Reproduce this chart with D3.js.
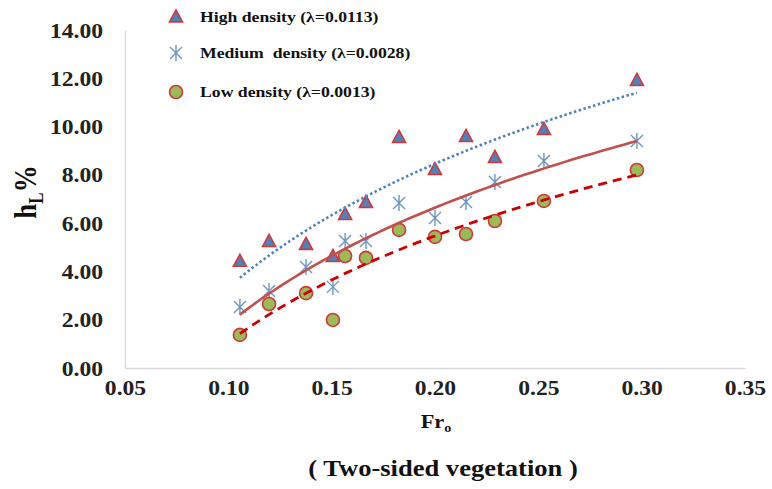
<!DOCTYPE html>
<html>
<head>
<meta charset="utf-8">
<script src="https://cdn.jsdelivr.net/npm/d3@7"></script>
<style>
  body { margin: 0; background: #fff; }
  svg text { font-family: "Liberation Serif", "Times New Roman", serif; font-weight: bold; }
</style>
</head>
<body>
<div id="chart"></div>
<script>
// Froude number values shared by all three series
const froude = [0.1056, 0.1197, 0.1376, 0.1506, 0.1565, 0.1666, 0.1826, 0.2000, 0.2150, 0.2290, 0.2527, 0.2977];

// h_L % for each vegetation density
const highDensity   = [4.42, 5.24, 5.12, 4.62, 6.36, 6.86, 9.55, 8.22, 9.59, 8.72, 9.88, 11.91];
const mediumDensity = [2.53, 3.19, 4.18, 3.36, 5.26, 5.26, 6.83, 6.21, 6.88, 7.70, 8.57, 9.40];
const lowDensity    = [1.37, 2.65, 3.10, 1.99, 4.64, 4.56, 5.72, 5.43, 5.55, 6.09, 6.92, 8.20];

const xTicks = [0.05, 0.10, 0.15, 0.20, 0.25, 0.30, 0.35];
const yTicks = [0, 2, 4, 6, 8, 10, 12, 14];

const width = 772, height = 489;
const margin = { left: 125, right: 27, top: 30, bottom: 121 };
// the original picture is a bit stretched sideways, so text is widened too
const stretch = 1.18;

const svg = d3.select('#chart').append('svg')
    .attr('width', width)
    .attr('height', height);

const x = d3.scaleLinear().domain([0.05, 0.35]).range([margin.left, width - margin.right]);
const y = d3.scaleLinear().domain([0, 14]).range([height - margin.bottom, margin.top]);

// axes - light grey lines, no tick marks
const xAxis = svg.append('g')
    .attr('transform', `translate(0,${y(0)})`)
    .call(d3.axisBottom(x).tickValues(xTicks).tickSize(0).tickPadding(10).tickFormat(d3.format('.2f')));
const yAxis = svg.append('g')
    .attr('transform', `translate(${x(0.05)},0)`)
    .call(d3.axisLeft(y).tickValues(yTicks).tickSize(0).tickFormat(d3.format('.2f')));

[xAxis, yAxis].forEach(ax => {
    ax.attr('font-family', null);
    ax.select('.domain').attr('stroke', '#d9d9d9').attr('stroke-width', 1.3);
    ax.selectAll('text')
        .style('font-size', '20px')
        .style('fill', '#222')
        .attr('transform', `scale(${stretch},1)`);
});
xAxis.selectAll('text').attr('dy', '0.85em');
yAxis.selectAll('text').attr('x', -22 / stretch).attr('dy', '0.35em');

// logarithmic trend line, y = a ln(x) + b, least squares fit
function logFit(xs, ys) {
    const lx = xs.map(Math.log);
    const mx = d3.mean(lx), my = d3.mean(ys);
    let sxy = 0, sxx = 0;
    lx.forEach((v, i) => { sxy += (v - mx) * (ys[i] - my); sxx += (v - mx) * (v - mx); });
    const a = sxy / sxx;
    const b = my - a * mx;
    return v => a * Math.log(v) + b;
}

const series = [
    { name: 'High density', lambda: '0.0113', values: highDensity, marker: 'triangle',
      lineColor: '#4f81bd', dash: '2.5,2.5', lineWidth: 2.6 },
    { name: 'Medium  density', lambda: '0.0028', values: mediumDensity, marker: 'star',
      lineColor: '#c0504d', dash: null, lineWidth: 2.6 },
    { name: 'Low density', lambda: '0.0013', values: lowDensity, marker: 'circle',
      lineColor: '#cc0000', dash: '9,6', lineWidth: 2.8 }
];

const extent = d3.extent(froude);
const samples = d3.range(0, 61).map(i => extent[0] + (extent[1] - extent[0]) * i / 60);
const line = d3.line().x(d => x(d[0])).y(d => y(d[1]));

// draw a marker at px,py
function drawMarker(g, type, px, py) {
    if (type === 'triangle') {
        g.append('path')
            .attr('d', `M${px},${py - 7}L${px + 6.5},${py + 5}L${px - 6.5},${py + 5}Z`)
            .style('fill', '#4f81bd')
            .style('stroke', '#d0383a')
            .style('stroke-width', 1.6)
            .style('stroke-linejoin', 'miter');
    } else if (type === 'star') {
        g.append('path')
            .attr('d', `M${px - 6},${py - 6}L${px + 6},${py + 6}M${px - 6},${py + 6}L${px + 6},${py - 6}M${px},${py - 8}L${px},${py + 8}`)
            .style('stroke', '#6f95c4')
            .style('stroke-width', 1.4)
            .style('fill', 'none');
    } else {
        g.append('circle')
            .attr('cx', px).attr('cy', py).attr('r', 6.5)
            .style('fill', '#9bbb59')
            .style('stroke', '#d0383a')
            .style('stroke-width', 1.6);
    }
}

// markers first, then trend lines over them
const markers = svg.append('g');
series.forEach(s => {
    s.values.forEach((v, i) => drawMarker(markers, s.marker, x(froude[i]), y(v)));
});

series.forEach(s => {
    const f = logFit(froude, s.values);
    svg.append('path')
        .attr('d', line(samples.map(v => [v, f(v)])))
        .style('fill', 'none')
        .style('stroke', s.lineColor)
        .style('stroke-width', s.lineWidth)
        .style('stroke-dasharray', s.dash);
});

// text helper: places a widened text at tx,ty
function label(tx, ty, size, anchor) {
    return svg.append('text')
        .attr('transform', `translate(${tx},${ty}) scale(${stretch},1)`)
        .attr('text-anchor', anchor || 'start')
        .style('font-size', size + 'px')
        .style('fill', '#111');
}

// legend
const legendY = [17, 53, 92];
series.forEach((s, i) => {
    drawMarker(svg, s.marker, 176, legendY[i]);
    label(200, legendY[i] + 5, 15)
        .attr('xml:space', 'preserve')
        .text(`${s.name} (λ=${s.lambda})`);
});

// axis titles
const yTitle = svg.append('text')
    .attr('transform', `translate(36,192) rotate(-90) scale(1,${stretch})`)
    .attr('text-anchor', 'middle')
    .style('font-size', '27px')
    .style('fill', '#111');
yTitle.append('tspan').text('h');
yTitle.append('tspan').attr('dy', 6).style('font-size', '17px').text('L');
yTitle.append('tspan').attr('dy', -6).text('%');

const xTitle = label(436, 428, 19, 'middle');
xTitle.append('tspan').text('Fr');
xTitle.append('tspan').attr('dy', 4).style('font-size', '12px').text('o');

label(443, 476, 22.5, 'middle').text('( Two-sided vegetation )');
</script>
</body>
</html>
